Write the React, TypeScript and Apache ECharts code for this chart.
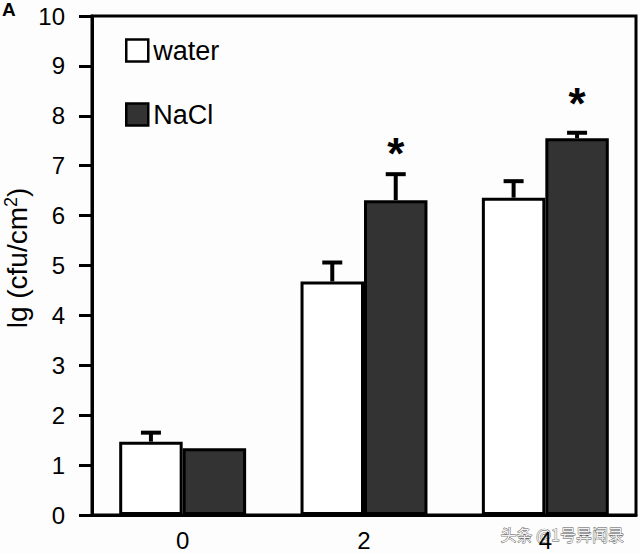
import React, { useEffect, useRef } from "react";
import * as echarts from "echarts";

const categories = ["0", "2", "4"];
const waterValues = [1.47, 4.68, 6.36];
const waterErrors = [0.18, 0.38, 0.33];
const naclValues = [1.34, 6.31, 7.55];
const naclErrors = [0, 0.52, 0.11];
const naclStarY = [null, 7.44, 8.45];
const yTicks = [0, 1, 2, 3, 4, 5, 6, 7, 8, 9, 10];

const FONT = "Liberation Sans, Arial, sans-serif";
const BAR_FRAC = 0.35;

export default function App() {
  const ref = useRef<HTMLDivElement>(null);
  useEffect(() => {
    if (!ref.current) return;
    const chart = echarts.init(ref.current, undefined, { renderer: "svg" });

    const errData = (vals: number[], errs: number[]) =>
      vals.map((v, i) => [i, v, errs[i]]);

    const errRender = (sign: number) => (params: any, api: any) => {
      const ci = api.value(0);
      const v = api.value(1);
      const e = api.value(2);
      if (!e) return { type: "group", children: [] };
      const bandW = api.size([1, 0])[0];
      const off = (sign * BAR_FRAC * bandW) / 2;
      const base = api.coord([ci, v]);
      const top = api.coord([ci, v + e]);
      const x = base[0] + off;
      return {
        type: "group",
        children: [
          { type: "line", shape: { x1: x, y1: base[1], x2: x, y2: top[1] }, style: { stroke: "#000", lineWidth: 4 } },
          { type: "line", shape: { x1: x - 10, y1: top[1], x2: x + 10, y2: top[1] }, style: { stroke: "#000", lineWidth: 4 } },
        ],
      };
    };

    const starRender = (params: any, api: any) => {
      const ci = api.value(0);
      const v = api.value(1);
      const bandW = api.size([1, 0])[0];
      const p = api.coord([ci, v]);
      return {
        type: "text",
        x: p[0] + (BAR_FRAC * bandW) / 2,
        y: p[1] + 10,
        style: {
          text: "*",
          fill: "#000",
          font: `bold 44px ${FONT}`,
          align: "center",
          verticalAlign: "middle",
        },
      };
    };

    const starData = naclStarY
      .map((v, i) => (v == null ? null : [i, v]))
      .filter((d) => d !== null);

    chart.setOption({
      animation: false,
      backgroundColor: "#fdfdfd",
      textStyle: { fontFamily: FONT },
      grid: {
        left: 92,
        right: 4,
        top: 16,
        bottom: 38,
        show: true,
        borderColor: "#000",
        borderWidth: 3,
        containLabel: false,
      },
      legend: {
        orient: "vertical",
        left: 125,
        top: 37,
        padding: 0,
        itemWidth: 22,
        itemHeight: 22,
        itemGap: 37,
        icon: "rect",
        data: ["water", "NaCl"],
        textStyle: { fontSize: 27, color: "#000", fontFamily: FONT },
        itemStyle: { borderColor: "#000", borderWidth: 2.5 },
      },
      xAxis: {
        type: "category",
        data: categories,
        boundaryGap: true,
        axisLine: { lineStyle: { color: "#000", width: 3 } },
        axisTick: { length: 14, lineStyle: { color: "#000", width: 3 } },
        axisLabel: { fontSize: 24, color: "#000", margin: 13, fontFamily: FONT },
      },
      yAxis: {
        type: "value",
        min: yTicks[0],
        max: yTicks[yTicks.length - 1],
        interval: 1,
        splitLine: { show: false },
        axisLine: { show: true, lineStyle: { color: "#000", width: 3 } },
        axisTick: { show: true, length: 13, lineStyle: { color: "#000", width: 3 } },
        axisLabel: { fontSize: 24, color: "#000", margin: 27, fontFamily: FONT },
      },
      series: [
        {
          name: "water",
          type: "bar",
          data: waterValues,
          barWidth: `${BAR_FRAC * 100}%`,
          barGap: "0%",
          itemStyle: { color: "#ffffff", borderColor: "#000", borderWidth: 3 },
        },
        {
          name: "NaCl",
          type: "bar",
          data: naclValues,
          barWidth: `${BAR_FRAC * 100}%`,
          barGap: "0%",
          itemStyle: { color: "#333333", borderColor: "#000", borderWidth: 3 },
        },
        {
          type: "custom",
          data: errData(waterValues, waterErrors),
          renderItem: errRender(-1),
          z: 5,
          silent: true,
        },
        {
          type: "custom",
          data: errData(naclValues, naclErrors),
          renderItem: errRender(1),
          z: 5,
          silent: true,
        },
        {
          type: "custom",
          data: starData,
          renderItem: starRender,
          z: 5,
          silent: true,
        },
      ],
      graphic: [
        {
          type: "text",
          left: 2,
          top: 0,
          style: { text: "A", font: `bold 19px ${FONT}`, fill: "#000" },
        },
        {
          type: "text",
          x: 15,
          y: 258,
          rotation: Math.PI / 2,
          style: {
            text: "{a|lg (cfu/cm}{s|2}{a|)}",
            fill: "#000",
            align: "center",
            verticalAlign: "middle",
            rich: {
              a: { fontSize: 28, fontFamily: FONT, fill: "#000", verticalAlign: "bottom", lineHeight: 32 },
              s: { fontSize: 18, fontFamily: FONT, fill: "#000", verticalAlign: "bottom", lineHeight: 32, padding: [0, 0, 11, 0] },
            },
          },
        },
        {
          type: "text",
          left: 500,
          top: 526,
          style: {
            text: "头条 @1号异闻录",
            font: `16px "Noto Sans CJK SC"`,
            fill: "#f2f2f2",
            stroke: "#555",
            lineWidth: 0.8,
          },
        },
      ],
    });
    return () => chart.dispose();
  }, []);

  return (
    <div
      ref={ref}
      style={{ position: "fixed", left: 0, top: 0, width: 640, height: 553 }}
    />
  );
}
